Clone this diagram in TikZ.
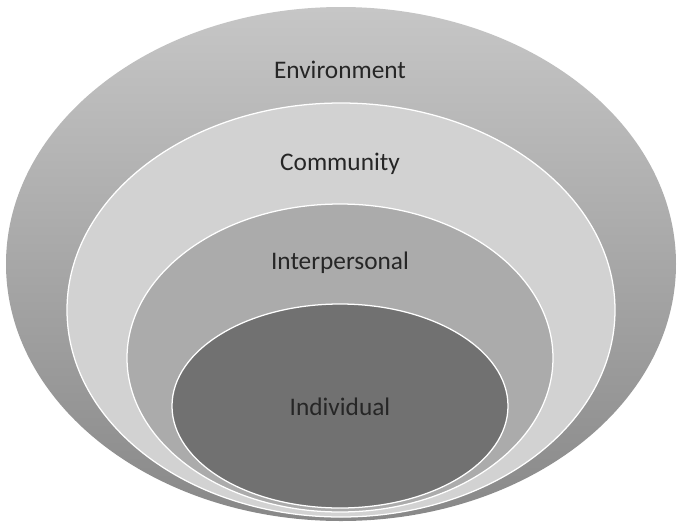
\documentclass[tikz,border=0pt]{standalone}
\usepackage{fontspec}
\setmainfont{Carlito}
\definecolor{ringtop}{HTML}{C6C6C6}
\definecolor{ringbot}{HTML}{888888}
\definecolor{commfill}{HTML}{D2D2D2}
\definecolor{interfill}{HTML}{ABABAB}
\definecolor{indfill}{HTML}{717171}
\tikzset{
  layer/.style={draw=white, line width=0.9pt},
  lbl/.style={font=\fontsize{18}{22}\selectfont, text=black!85}
}
\begin{document}
\begin{tikzpicture}[x=0.025cm, y=-0.025cm]
  \useasboundingbox (0,0) rectangle (680,529);
  % Ebenen von aussen nach innen
  \shade[top color=ringtop, bottom color=ringbot] (341,264) ellipse (335 and 257);
  \draw[layer, fill=commfill] (341,310) ellipse (274 and 207);
  \draw[layer, fill=interfill] (340,358) ellipse (213 and 154);
  \draw[layer, fill=indfill] (340,406) ellipse (168 and 102);
  % Beschriftungen
  \node[lbl] (env) at (340,70) {Environment};
  \node[lbl] (comm) at (340,164) {Community};
  \node[lbl] (inter) at (340,263) {Interpersonal};
  \node[lbl] (ind) at (340,407) {Individual};
\end{tikzpicture}
\end{document}
